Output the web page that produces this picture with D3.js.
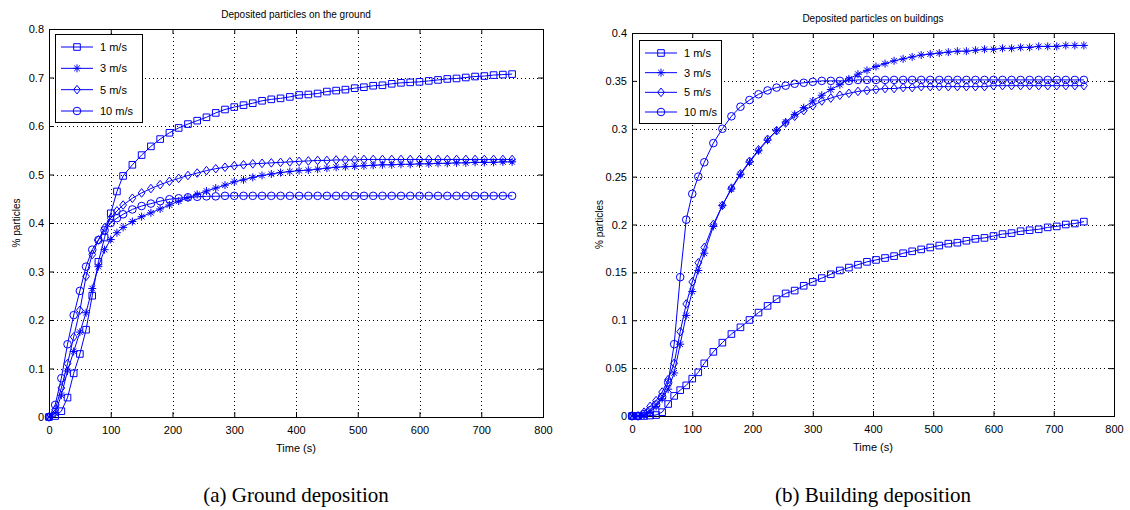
<!DOCTYPE html>
<html>
<head>
<meta charset="utf-8">
<script src="https://cdn.jsdelivr.net/npm/d3@7"></script>
<style>
body { margin: 0; background: #fff; }
text { font-family: "Liberation Sans", Arial, Helvetica, sans-serif; fill: #000; }
.narrow { font-family: "Liberation Sans Narrow", "Arial Narrow", "Liberation Sans", sans-serif; }
.caption { font-family: "Liberation Serif", "Times New Roman", serif; font-size: 21px; }
</style>
</head>
<body>
<svg id="chart" width="1130" height="510"></svg>
<script>
// sample times (s)
var times = [0,10,20,30,40,50,60,70,80,90,100,110,120,
  135,150,165,180,195,210,225,240,255,270,285,300,315,330,345,360,375,390,405,420,
  435,450,465,480,495,510,525,540,555,570,585,600,615,630,645,660,675,690,705,720,735,750];

var speedLabels = ["1 m/s", "3 m/s", "5 m/s", "10 m/s"];
var markerTypes = ["square", "star", "diamond", "circle"];
var xTicks = [0,100,200,300,400,500,600,700,800];
var groundTicks = [0,0.1,0.2,0.3,0.4,0.5,0.6,0.7,0.8];
var buildingTicks = [0,0.05,0.1,0.15,0.2,0.25,0.3,0.35,0.4];

// ground deposition
var ground1 = [0,0.002,0.012,0.04,0.09,0.13,0.18,0.25,0.32,0.37,0.42,0.465,0.497,
  0.52,0.54,0.558,0.573,0.586,0.596,0.604,0.611,0.618,0.627,0.634,0.639,0.643,0.647,0.652,0.655,0.657,0.66,0.664,0.665,
  0.667,0.671,0.673,0.675,0.678,0.68,0.683,0.684,0.687,0.689,0.69,0.691,0.693,0.695,0.697,0.698,0.7,0.702,0.703,0.705,0.706,0.707];
var ground3 = [0,0.008,0.045,0.095,0.135,0.175,0.215,0.265,0.31,0.345,0.366,0.38,0.391,
  0.403,0.413,0.421,0.429,0.437,0.445,0.452,0.459,0.466,0.472,0.478,0.485,0.489,0.494,0.498,0.501,0.504,0.506,0.508,0.509,
  0.511,0.513,0.515,0.516,0.517,0.518,0.519,0.52,0.52,0.521,0.521,0.522,0.522,0.523,0.523,0.524,0.524,0.525,0.525,0.525,0.526,0.526];
var ground5 = [0,0.015,0.06,0.11,0.165,0.22,0.29,0.335,0.365,0.39,0.41,0.425,0.437,
  0.451,0.462,0.471,0.479,0.486,0.492,0.498,0.503,0.508,0.512,0.515,0.518,0.52,0.522,0.523,0.524,0.525,0.526,0.527,0.528,
  0.529,0.529,0.53,0.53,0.53,0.531,0.531,0.531,0.531,0.531,0.531,0.531,0.531,0.531,0.531,0.531,0.531,0.531,0.531,0.531,0.531,0.531];
var ground10 = [0,0.025,0.08,0.15,0.21,0.26,0.31,0.345,0.365,0.385,0.4,0.41,0.418,
  0.428,0.435,0.44,0.445,0.449,0.451,0.453,0.454,0.455,0.455,0.456,0.456,0.456,0.456,0.456,0.456,0.456,0.456,0.456,0.456,
  0.456,0.456,0.456,0.456,0.456,0.456,0.456,0.456,0.456,0.456,0.456,0.456,0.456,0.456,0.456,0.456,0.456,0.456,0.456,0.456,0.456,0.456];

// building deposition
var building1 = [0,0,0,0.0005,0.001,0.004,0.0125,0.021,0.027,0.032,0.039,0.0456,0.055,
  0.067,0.0766,0.0856,0.0926,0.1003,0.108,0.115,0.122,0.128,0.131,0.136,0.14,0.144,0.148,0.152,0.155,0.158,0.161,0.163,0.165,
  0.167,0.17,0.172,0.174,0.176,0.178,0.18,0.181,0.183,0.185,0.186,0.188,0.19,0.191,0.193,0.194,0.195,0.197,0.198,0.2,0.201,0.203];
var building3 = [0,0,0.001,0.004,0.01,0.018,0.028,0.045,0.075,0.105,0.13,0.152,0.17,
  0.198,0.22,0.237,0.252,0.265,0.277,0.288,0.298,0.307,0.315,0.322,0.329,0.335,0.341,0.346,0.352,0.357,0.361,0.365,0.368,
  0.371,0.373,0.375,0.377,0.378,0.379,0.38,0.381,0.381,0.382,0.383,0.383,0.384,0.384,0.385,0.385,0.386,0.386,0.386,0.387,0.387,0.387];
var building5 = [0,0,0.004,0.01,0.016,0.025,0.038,0.055,0.088,0.117,0.14,0.16,0.176,
  0.2,0.22,0.238,0.253,0.266,0.278,0.289,0.298,0.306,0.313,0.319,0.324,0.329,0.332,0.335,0.337,0.339,0.34,0.341,0.342,
  0.342,0.343,0.343,0.344,0.344,0.344,0.344,0.344,0.344,0.344,0.344,0.345,0.345,0.345,0.345,0.345,0.345,0.345,0.345,0.345,0.345,0.345];
var building10 = [0,0,0.002,0.006,0.012,0.02,0.035,0.075,0.145,0.205,0.232,0.25,0.265,
  0.285,0.3,0.313,0.323,0.33,0.336,0.34,0.343,0.345,0.347,0.348,0.349,0.35,0.35,0.35,0.35,0.351,0.351,0.351,0.351,
  0.351,0.351,0.351,0.351,0.351,0.351,0.351,0.351,0.351,0.351,0.351,0.351,0.351,0.351,0.351,0.351,0.351,0.351,0.351,0.351,0.351,0.351];

var svg = d3.select("#chart");
var blue = "#0000ff";

var panels = [
  { title: "Deposited particles on the ground", caption: "(a) Ground deposition",
    series: [ground1, ground3, ground5, ground10], yTicks: groundTicks, yMax: 0.8,
    left: 49, right: 543, top: 29, bottom: 417, legend: {x: 55, y: 34, w: 87, h: 88} },
  { title: "Deposited particles on buildings", caption: "(b) Building deposition",
    series: [building1, building3, building5, building10], yTicks: buildingTicks, yMax: 0.4,
    left: 632, right: 1114, top: 33, bottom: 416, legend: {x: 639, y: 40, w: 82, h: 83} }
];

function markerPath(type) {
  if (type == "square") return "M-3.3,-3.3h6.6v6.6h-6.6z";
  if (type == "circle") return "M-3.8,0a3.8,3.8 0 1,0 7.6,0a3.8,3.8 0 1,0 -7.6,0";
  if (type == "diamond") return "M0,-4.3L3.4,0L0,4.3L-3.4,0Z";
  return "M-4,0H4M0,-4V4M-2.8,-2.8L2.8,2.8M-2.8,2.8L2.8,-2.8";
}

panels.forEach(function(p) {
  var x = d3.scaleLinear().domain([0, 800]).range([p.left, p.right]);
  var y = d3.scaleLinear().domain([0, p.yMax]).range([p.bottom, p.top]);
  var g = svg.append("g");
  var cx = (p.left + p.right) / 2;

  // dotted grid
  g.selectAll(".vgrid").data(xTicks.slice(1, -1)).enter().append("line")
    .attr("x1", function(d) { return Math.round(x(d)) + 0.5; })
    .attr("x2", function(d) { return Math.round(x(d)) + 0.5; })
    .attr("y1", p.top).attr("y2", p.bottom)
    .attr("stroke", "#000").attr("stroke-dasharray", "1,3");
  g.selectAll(".hgrid").data(p.yTicks.slice(1, -1)).enter().append("line")
    .attr("y1", function(d) { return Math.round(y(d)) + 0.5; })
    .attr("y2", function(d) { return Math.round(y(d)) + 0.5; })
    .attr("x1", p.left).attr("x2", p.right)
    .attr("stroke", "#000").attr("stroke-dasharray", "1,3");

  // axes, ticks pointing inward
  var fmt = d3.format("~g");
  var xb = g.append("g").attr("transform", "translate(0," + p.bottom + ")")
    .call(d3.axisBottom(x).tickValues(xTicks).tickSize(-5).tickPadding(9));
  xb.selectAll("text").attr("class", "narrow").style("font-size", "11px");
  g.append("g").attr("transform", "translate(0," + p.top + ")")
    .call(d3.axisTop(x).tickValues(xTicks).tickSize(-5).tickFormat(""));
  var yl = g.append("g").attr("transform", "translate(" + p.left + ",0)")
    .call(d3.axisLeft(y).tickValues(p.yTicks).tickSize(-5).tickPadding(5).tickFormat(fmt));
  yl.selectAll("text").style("font-size", "11px");
  g.append("g").attr("transform", "translate(" + p.right + ",0)")
    .call(d3.axisRight(y).tickValues(p.yTicks).tickSize(-5).tickFormat(""));
  g.selectAll(".domain").remove();
  g.selectAll(".tick line").attr("stroke", "#000");

  g.append("rect")
    .attr("x", p.left + 0.5).attr("y", p.top + 0.5)
    .attr("width", p.right - p.left).attr("height", p.bottom - p.top)
    .attr("fill", "none").attr("stroke", "#000");

  // series
  var line = d3.line()
    .x(function(d, i) { return x(times[i]); })
    .y(function(d) { return y(d); });

  p.series.forEach(function(values, k) {
    g.append("path").datum(values)
      .attr("d", line)
      .attr("fill", "none").attr("stroke", blue).attr("stroke-width", 1);
    g.selectAll(".m" + k).data(values).enter().append("path")
      .attr("class", "m" + k)
      .attr("transform", function(d, i) { return "translate(" + x(times[i]) + "," + y(d) + ")"; })
      .attr("d", markerPath(markerTypes[k]))
      .attr("fill", "none").attr("stroke", blue).attr("stroke-width", 1);
  });

  // legend
  var L = p.legend;
  var lg = g.append("g").attr("transform", "translate(" + L.x + "," + L.y + ")");
  lg.append("rect").attr("x", 0.5).attr("y", 0.5).attr("width", L.w).attr("height", L.h)
    .attr("fill", "#fff").attr("stroke", "#000");
  speedLabels.forEach(function(lab, k) {
    var ry = 13 + k * (L.h - 24) / 3;
    lg.append("line").attr("x1", 6).attr("x2", 38).attr("y1", ry).attr("y2", ry)
      .attr("stroke", blue);
    lg.append("path").attr("transform", "translate(22," + ry + ")")
      .attr("d", markerPath(markerTypes[k]))
      .attr("fill", "none").attr("stroke", blue);
    lg.append("text").attr("x", 45).attr("y", ry).attr("dy", "0.35em")
      .style("font-size", "11px").text(lab);
  });

  // titles
  g.append("text").attr("x", cx).attr("y", p.top - 11).attr("text-anchor", "middle")
    .style("font-size", "10px").text(p.title);
  g.append("text").attr("class", "narrow").attr("x", cx).attr("y", p.bottom + 31)
    .attr("dy", "0.35em").attr("text-anchor", "middle")
    .style("font-size", "11px").text("Time (s)");
  g.append("text").attr("transform", "translate(" + (p.left - 33) + "," + ((p.top + p.bottom) / 2) + ") rotate(-90)")
    .attr("text-anchor", "middle").attr("dy", "0.35em")
    .style("font-size", "10px").text("% particles");
  g.append("text").attr("class", "caption").attr("x", cx).attr("y", 502)
    .attr("text-anchor", "middle").text(p.caption);
});
</script>
</body>
</html>
